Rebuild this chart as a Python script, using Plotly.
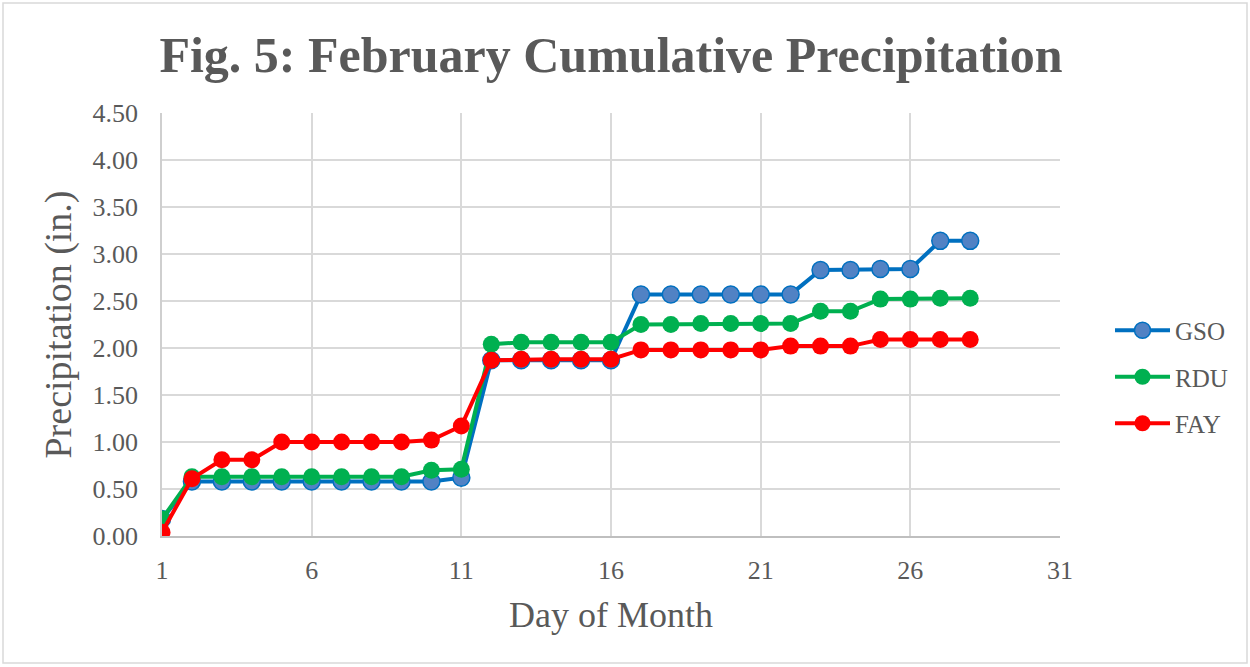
import plotly.graph_objects as go

days = list(range(1, 29))
gso = [0.18, 0.58, 0.58, 0.58, 0.58, 0.58, 0.58, 0.58, 0.58, 0.58, 0.62,
       1.87, 1.87, 1.87, 1.87, 1.87, 2.57, 2.57, 2.57, 2.57, 2.57, 2.57,
       2.83, 2.83, 2.84, 2.84, 3.14, 3.14]
rdu = [0.18, 0.63, 0.63, 0.63, 0.63, 0.63, 0.63, 0.63, 0.63, 0.70, 0.71,
       2.04, 2.06, 2.06, 2.06, 2.06, 2.25, 2.25, 2.26, 2.26, 2.26, 2.26,
       2.39, 2.39, 2.52, 2.52, 2.53, 2.53]
fay = [0.04, 0.61, 0.81, 0.81, 1.00, 1.00, 1.00, 1.00, 1.00, 1.02, 1.17,
       1.87, 1.88, 1.88, 1.88, 1.88, 1.98, 1.98, 1.98, 1.98, 1.98, 2.02,
       2.02, 2.02, 2.09, 2.09, 2.09, 2.09]

x_ticks = [1, 6, 11, 16, 21, 26, 31]
y_ticks = [0.0, 0.5, 1.0, 1.5, 2.0, 2.5, 3.0, 3.5, 4.0, 4.5]

FONT = "Liberation Serif"
GREY = "#595959"

fig = go.Figure()
fig.add_trace(go.Scatter(x=days, y=gso, name="GSO", mode="lines+markers",
                         legendgroup="g1",
                         line=dict(color="#0070c0", width=4),
                         marker=dict(size=17, color="#5182c4",
                                     line=dict(color="#0070c0", width=1.5))))
fig.add_trace(go.Scatter(x=days, y=rdu, name="RDU", mode="lines+markers",
                         legendgroup="g2",
                         line=dict(color="#00b050", width=4),
                         marker=dict(size=17, color="#00b050")))
fig.add_trace(go.Scatter(x=days, y=fay, name="FAY", mode="lines+markers",
                         legendgroup="g3",
                         line=dict(color="#ff0000", width=4),
                         marker=dict(size=17, color="#ff0000")))

L, R, T, B = 162, 190, 113, 131
PW, PH = 1250 - L - R, 667 - T - B

fig.update_layout(
    width=1250, height=667,
    margin=dict(l=L, r=R, t=T, b=B),
    paper_bgcolor="white", plot_bgcolor="white",
    font=dict(family=FONT, color=GREY),
    title=dict(text="<b>Fig. 5: February Cumulative Precipitation</b>",
               x=0.5, xref="paper", y=1 - 54 / 667, yanchor="middle",
               font=dict(size=50, color=GREY, family=FONT)),
    xaxis=dict(range=[1, 31], tickvals=x_ticks, ticktext=[str(v) for v in x_ticks],
               showgrid=True, gridcolor="#d9d9d9", gridwidth=1.5,
               showline=True, linecolor="#bfbfbf", linewidth=1.5,
               zeroline=False, tickfont=dict(size=26, color=GREY),
               ticks="", ticklabelstandoff=10,
               title=dict(text="Day of Month", font=dict(size=36, color=GREY),
                          standoff=18)),
    yaxis=dict(range=[0, 4.5], tickvals=y_ticks,
               ticktext=[f"{v:.2f}" for v in y_ticks],
               showgrid=True, gridcolor="#d9d9d9", gridwidth=1.5,
               showline=True, linecolor="#cfcfcf", linewidth=1.5, zeroline=False,
               ticks="", ticklabelstandoff=17,
               tickfont=dict(size=26, color=GREY),
               title=dict(text="Precipitation (in.)", font=dict(size=38, color=GREY),
                          standoff=9)),
    legend=dict(x=(1110 - L) / PW, xanchor="left", y=(536 - 377) / PH, yanchor="middle",
                font=dict(size=25, color=GREY), itemwidth=55,
                traceorder="grouped", tracegroupgap=11, bgcolor="rgba(0,0,0,0)"),
    shapes=[dict(type="rect", xref="paper", yref="paper",
                 x0=(3 - L) / PW, x1=(1247 - L) / PW,
                 y0=(536 - 663) / PH, y1=(536 - 3) / PH,
                 line=dict(color="#d9d9d9", width=1.5))],
)

fig.write_html("out.html", config={"displayModeBar": False},
               post_script="document.body.style.margin='0';")
